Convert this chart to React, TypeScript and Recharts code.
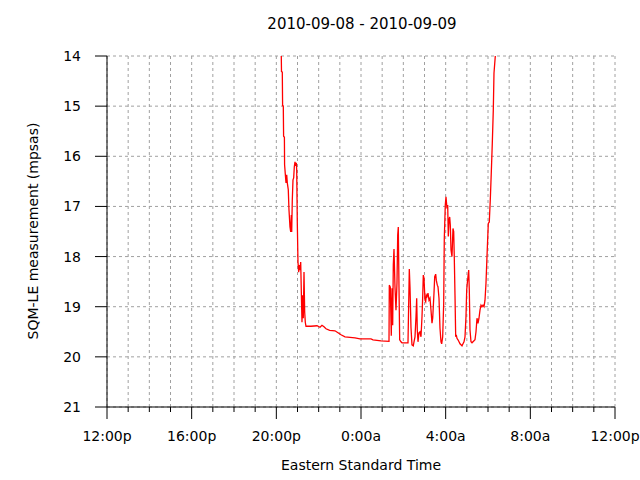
import React from 'react';
import { LineChart, Line, XAxis, YAxis, CartesianGrid } from 'recharts';

// Hours since 12:00p on 2010-09-08
const HOURS = [
  8.234, 8.244, 8.282, 8.296, 8.329, 8.343, 8.381, 8.39, 8.423, 8.457,
  8.49, 8.518, 8.565, 8.598, 8.645, 8.679, 8.707, 8.726, 8.754, 8.787,
  8.82, 8.849, 8.882, 8.915, 8.943, 8.962, 8.99, 9.023, 9.056, 9.085,
  9.118, 9.151, 9.179, 9.212, 9.245, 9.274, 9.307, 9.34, 9.368, 9.401,
  9.638, 9.921, 10.063, 10.157, 10.252, 10.346, 10.521, 10.771, 10.913, 11.055,
  11.244, 11.48, 11.716, 11.952, 12.472, 12.567, 12.945, 13.323, 13.337, 13.384,
  13.431, 13.464, 13.497, 13.526, 13.559, 13.606, 13.653, 13.7, 13.734, 13.762,
  13.795, 13.828, 13.889, 13.937, 14.22, 14.282, 14.315, 14.362, 14.409, 14.47,
  14.504, 14.551, 14.598, 14.631, 14.659, 14.693, 14.74, 14.787, 14.834, 14.882,
  14.915, 14.943, 14.976, 15.023, 15.056, 15.085, 15.118, 15.165, 15.212, 15.259,
  15.307, 15.354, 15.387, 15.415, 15.448, 15.482, 15.529, 15.557, 15.604, 15.637,
  15.685, 15.732, 15.779, 15.812, 15.859, 15.907, 15.935, 15.982, 16.015, 16.063,
  16.096, 16.124, 16.157, 16.19, 16.219, 16.252, 16.299, 16.346, 16.379, 16.408,
  16.441, 16.474, 16.502, 16.535, 16.582, 16.63, 16.677, 16.724, 16.771, 16.819,
  16.866, 16.913, 16.96, 16.993, 17.022, 17.055, 17.088, 17.117, 17.149, 17.196,
  17.244, 17.338, 17.385, 17.433, 17.48, 17.527, 17.574, 17.622, 17.669, 17.716,
  17.763, 17.811, 17.858, 17.905, 17.952, 18.014, 18.061, 18.108, 18.155, 18.203,
  18.25, 18.283, 18.345,
];

// SQM-LE readings (mpsas)
const MPSAS = [
  14.0, 14.31, 14.32, 14.99, 15.0, 15.6, 15.62, 16.17, 16.35, 16.53,
  16.37, 16.53, 16.67, 17.07, 17.41, 17.51, 17.17, 17.51, 16.87, 16.47,
  16.43, 16.21, 16.11, 16.19, 16.13, 16.27, 17.31, 18.11, 18.31, 18.17,
  18.27, 18.11, 18.67, 19.31, 18.77, 19.23, 18.31, 19.11, 19.31, 19.39,
  19.39, 19.38, 19.41, 19.37, 19.4, 19.44, 19.47, 19.48, 19.52, 19.56,
  19.6, 19.61, 19.62, 19.64, 19.64, 19.66, 19.68, 19.69, 18.57, 18.61,
  19.58, 18.63, 19.37, 18.17, 17.85, 18.61, 19.07, 18.53, 17.57, 17.41,
  18.61, 19.66, 19.7, 19.72, 19.72, 18.25, 18.61, 19.42, 19.76, 19.78,
  19.7, 19.6, 19.2, 18.83, 19.46, 19.7, 19.52, 19.5, 19.6, 19.2,
  18.8, 18.37, 18.43, 18.87, 18.9, 18.77, 18.8, 18.73, 18.87, 18.83,
  19.07, 19.33, 19.23, 19.0, 18.73, 18.4, 18.35, 18.47, 18.57, 18.6,
  18.83, 19.43, 19.7, 19.74, 19.6, 18.93, 17.64, 16.97, 16.81, 17.04,
  16.97, 17.6, 17.27, 17.21, 17.37, 17.87, 18.0, 17.44, 17.5, 18.03,
  18.77, 19.6, 19.56, 19.63, 19.66, 19.7, 19.74, 19.76, 19.78, 19.74,
  19.7, 19.6, 19.2, 18.67, 18.53, 18.4, 18.27, 18.67, 19.46, 19.7,
  19.72, 19.68, 19.66, 19.5, 19.23, 19.33, 19.23, 19.07, 18.97, 19.0,
  18.97, 19.0, 18.87, 18.53, 18.0, 17.34, 17.31, 16.87, 16.33, 15.74,
  15.08, 14.34, 14.0,
];

const HOUR_TICKS = [0, 1, 2, 3, 4, 5, 6, 7, 8, 9, 10, 11, 12, 13, 14, 15, 16, 17, 18, 19, 20, 21, 22, 23, 24];
const X_TICK_LABELS = ['12:00p', '16:00p', '20:00p', '0:00a', '4:00a', '8:00a', '12:00p'];
const Y_TICKS = [14, 15, 16, 17, 18, 19, 20, 21];

const TITLE = '2010-09-08 - 2010-09-09';
const X_TITLE = 'Eastern Standard Time';
const Y_TITLE = 'SQM-LE measurement (mpsas)';

const FONT = '"DejaVu Sans", sans-serif';

const data = HOURS.map((h, i) => ({ h, v: MPSAS[i] }));

function XTick(props: any) {
  const { x, y, payload } = props;
  const h = payload.value as number;
  const major = h % 4 === 0;
  return (
    <g>
      <line x1={x} y1={y} x2={x} y2={y + (major ? 12 : 5)} stroke="#000" strokeWidth={1} />
      {major && (
        <text x={x} y={y + 34} textAnchor="middle" fontFamily={FONT} fontSize={14} fill="#000">
          {X_TICK_LABELS[h / 4]}
        </text>
      )}
    </g>
  );
}

export default function App() {
  return (
    <div style={{ position: 'absolute', left: 0, top: 0, width: 640, height: 480, background: '#fff' }}>
      <LineChart
        width={640}
        height={480}
        data={data}
        margin={{ top: 56, right: 25, left: 47, bottom: 43 }}
      >
        <CartesianGrid stroke="#a0a0a0" strokeDasharray="3 3" />
        <XAxis
          dataKey="h"
          type="number"
          domain={[0, 24]}
          ticks={HOUR_TICKS}
          interval={0}
          height={30}
          tickSize={0}
          tickMargin={0}
          tickLine={false}
          axisLine={{ stroke: '#000' }}
          tick={(p: any) => <XTick {...p} />}
        />
        <YAxis
          type="number"
          domain={[14, 21]}
          ticks={Y_TICKS}
          reversed
          width={60}
          interval={0}
          tickSize={12}
          tickMargin={14}
          axisLine={{ stroke: '#000' }}
          tickLine={{ stroke: '#000' }}
          tick={{ fontFamily: FONT, fontSize: 14, fill: '#000' }}
        />
        <Line
          dataKey="v"
          type="linear"
          stroke="#ff0000"
          strokeWidth={1.3}
          dot={false}
          isAnimationActive={false}
        />
      </LineChart>
      <svg
        width={640}
        height={480}
        style={{ position: 'absolute', left: 0, top: 0, pointerEvents: 'none' }}
      >
        <text x={362} y={29} textAnchor="middle" fontFamily={FONT} fontSize={15} fill="#000">
          {TITLE}
        </text>
        <text x={361} y={470} textAnchor="middle" fontFamily={FONT} fontSize={14} fill="#000">
          {X_TITLE}
        </text>
        <text
          x={0}
          y={0}
          transform="translate(38,231) rotate(-90)"
          textAnchor="middle"
          fontFamily={FONT}
          fontSize={14}
          fill="#000"
        >
          {Y_TITLE}
        </text>
      </svg>
    </div>
  );
}
